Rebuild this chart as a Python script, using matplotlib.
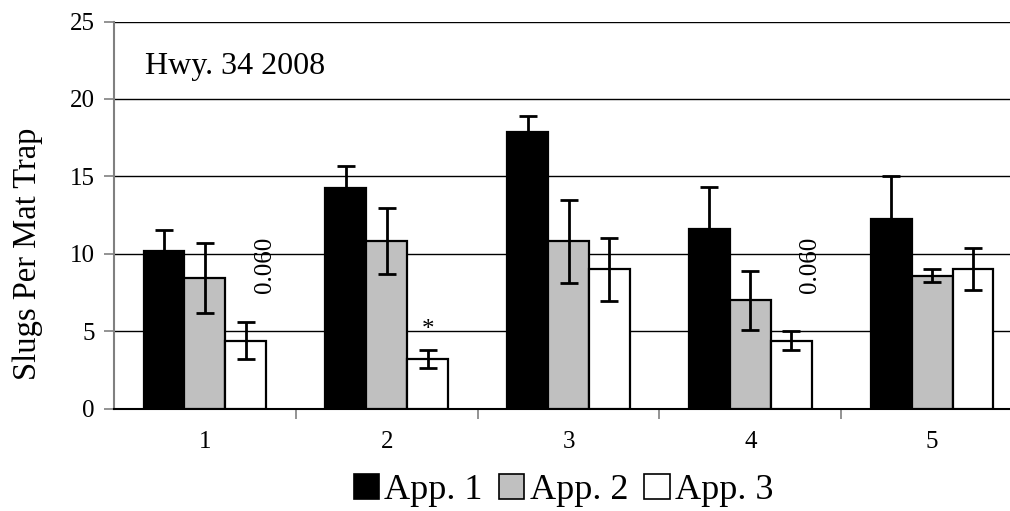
import matplotlib
matplotlib.use("Agg")
import matplotlib.pyplot as plt
from matplotlib.patches import Patch
import numpy as np

plt.rcParams['font.family'] = ['Liberation Serif', 'DejaVu Serif']

# Slug counts per mat trap, Hwy. 34 2008
dates = ["1", "2", "3", "4", "5"]
series_names = ["App. 1", "App. 2", "App. 3"]
app1 = [10.2, 14.25, 17.85, 11.6, 12.25]
app2 = [8.45, 10.85, 10.8, 7.0, 8.6]
app3 = [4.4, 3.2, 9.0, 4.4, 9.0]
app1_err = [1.32, 1.39, 1.03, 2.71, 2.8]
app2_err = [2.24, 2.13, 2.69, 1.89, 0.42]
app3_err = [1.2, 0.6, 2.03, 0.61, 1.36]
p_value_labels = {0: "0.060", 3: "0.060"}
significant = [1]

colors = ["#000000", "#C0C0C0", "#FFFFFF"]

fig = plt.figure(figsize=(10.10, 5.11), dpi=100)
ax = fig.add_axes([0.1129, 0.2002, 0.9, 0.7577])

x = np.arange(len(dates))
width = 0.225
values = [app1, app2, app3]
errors = [app1_err, app2_err, app3_err]
for k, (vals, errs, col) in enumerate(zip(values, errors, colors)):
    ax.bar(x + (k - 1) * width, vals, width, color=col, edgecolor="black",
           linewidth=1.6, zorder=3)
    ax.errorbar(x + (k - 1) * width, vals, yerr=errs, fmt="none",
                ecolor="black", elinewidth=2.0, capsize=6.5, capthick=2.0,
                zorder=4)

for i, txt in p_value_labels.items():
    ax.text(x[i] + 0.33, 9.3, txt, rotation=90, ha="center", va="center",
            fontsize=18)
for i in significant:
    ax.text(x[i] + width, app3[i] + app3_err[i] + 1.25, "*", ha="center",
            va="center", fontsize=18)

ax.text(-0.33, 22.1, "Hwy. 34 2008", ha="left", va="center", fontsize=23)

ax.set_xlim(-0.5, len(dates) - 0.5)
ax.set_ylim(0, 25)
ax.set_yticks(np.arange(0, 26, 5))
ax.yaxis.grid(True, color="black", linewidth=1.0, zorder=0)
ax.set_axisbelow(True)

ax.set_xticks(x[:-1] + 0.5)
ax.set_xticklabels([])
ax.set_xticks(x, minor=True)
ax.set_xticklabels(dates, minor=True, fontsize=18)
ax.tick_params(axis="x", which="major", direction="out", length=7,
               width=1.2, color="#808080")
ax.tick_params(axis="x", which="minor", length=0, pad=16)
ax.tick_params(axis="y", direction="out", length=7, width=1.2,
               color="#808080", labelsize=18, pad=7)

for side in ["top", "right"]:
    ax.spines[side].set_visible(False)
ax.spines["left"].set_color("#808080")
ax.spines["left"].set_linewidth(1.5)
ax.spines["bottom"].set_color("black")
ax.spines["bottom"].set_linewidth(1.5)

ax.set_ylabel("Slugs Per Mat Trap", fontsize=23.5, labelpad=19, y=0.40)

handles = [Patch(facecolor=c, edgecolor="black", linewidth=1.2) for c in colors]
fig.legend(handles, series_names, loc="center", bbox_to_anchor=(0.558, 0.04),
           ncol=3, frameon=False, fontsize=26, handlelength=0.7,
           handleheight=0.7, handletextpad=0.15, columnspacing=0.45,
           borderaxespad=0)

fig.savefig("out.png", dpi=100)
